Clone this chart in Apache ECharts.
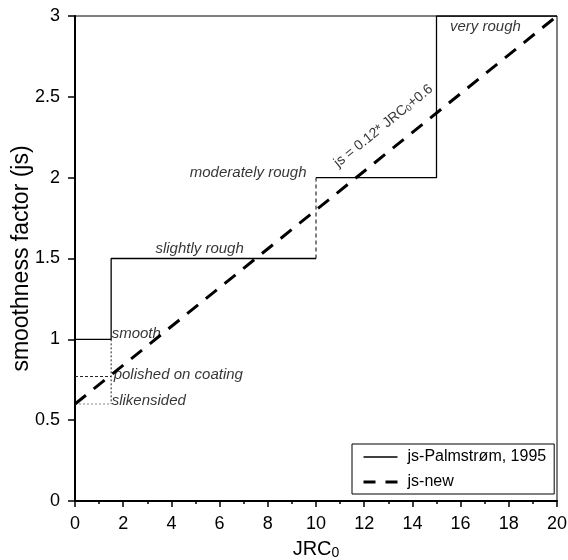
<!DOCTYPE html>
<html><head><meta charset="utf-8">
<script src="https://cdn.jsdelivr.net/npm/echarts@6/dist/echarts.min.js"></script>
<style>html,body{margin:0;padding:0;background:#fff}#c{width:568px;height:560px}</style>
</head><body><div id="c"></div>
<script>
// Palmstrøm (1995) roughness classes: step function
const classNames = ['smooth', 'slightly rough', 'moderately rough', 'very rough'];
const classFrom = [0, 1.5, 10, 15];
const classTo = [1.5, 10, 15, 20];
const classJs = [1.0, 1.5, 2.0, 3.0];
// lower classes below "smooth"
const lowNames = ['polished on coating', 'slikensided'];
const lowJs = [0.77, 0.6];
const lowTo = 1.5;
// js-new line
const newJRC = [0, 20];
const newJs = [0.6, 3.0];
const seriesNames = ['js-Palmstrøm, 1995', 'js-new'];
const formulaText = 'js = 0.12* JRC{s|0}+0.6';
const formulaAt = [12.8, 2.32];

const FONT = 'Liberation Sans, Arial, sans-serif';

// build the solid step path, with a break at the dashed riser (JRC 10)
const palmSolid = [];
const palmDashed = [];
for (let i = 0; i < classNames.length; i++) {
  palmSolid.push([classFrom[i], classJs[i]]);
  palmSolid.push([classTo[i], classJs[i]]);
  if (i === 1) {
    palmDashed.push([classTo[i], classJs[i]], [classTo[i], classJs[i + 1]]);
    palmSolid.push([classTo[i], '-']);
  }
}
const lowLines = lowJs.map(v => [[0, v], [lowTo, v]]);
const lowRiser = [[lowTo, classJs[0]], [lowTo, lowJs[lowJs.length - 1]]];
const newData = newJRC.map((x, i) => [x, newJs[i]]);

const italic = {fontStyle: 'italic', fontSize: 15, color: '#000', fontFamily: FONT};
const annot = [
  {value: [classTo[0], classJs[0]], label: Object.assign({show: true, formatter: classNames[0], position: 'right', distance: 0, offset: [0, -6]}, italic)},
  {value: [lowTo, lowJs[0]], label: Object.assign({show: true, formatter: lowNames[0], position: 'right', distance: 2, offset: [0, -2]}, italic)},
  {value: [lowTo, lowJs[1]], label: Object.assign({show: true, formatter: lowNames[1], position: 'right', distance: 0, offset: [0, -3]}, italic)},
  {value: [(classFrom[1] + classTo[1]) / 2, classJs[1]], label: Object.assign({show: true, formatter: classNames[1], position: 'top', distance: 2, offset: [-14, 0]}, italic)},
  {value: [classTo[1], classJs[2]], label: Object.assign({show: true, formatter: classNames[2], position: 'left', distance: 9, offset: [0, -5]}, italic)},
  {value: [classFrom[3], classJs[3]], label: Object.assign({show: true, formatter: classNames[3], position: 'right', distance: 13, offset: [0, 11]}, italic)},
  {value: formulaAt, label: {show: true, formatter: formulaText, position: 'inside', rotate: 39, fontSize: 14, color: '#000', fontFamily: FONT,
     rich: {s: {fontSize: 9, fontFamily: FONT, color: '#000', padding: [5, 0, 0, 0]}}}}
];

const chart = echarts.init(document.getElementById('c'), null, {renderer: 'canvas'});
chart.setOption({
  animation: false,
  backgroundColor: '#fff',
  grid: {left: 75, right: 11, top: 16, bottom: 59, show: true, borderColor: '#000', borderWidth: 1,
         backgroundColor: 'transparent', containLabel: false, outerBoundsMode: 'none'},
  legend: {
    data: [
      {name: seriesNames[0], lineStyle: {width: 1.3, type: 'solid', color: '#000'}},
      {name: seriesNames[1], lineStyle: {width: 3, type: [12, 10], color: '#000'}}
    ],
    orient: 'vertical', left: 352, top: 444,
    backgroundColor: '#fff', borderColor: '#000', borderWidth: 1, borderRadius: 0,
    padding: [5, 8, 4, 10], itemWidth: 34, itemHeight: 16, itemGap: 9,
    itemStyle: {opacity: 0},
    textStyle: {fontSize: 16, color: '#000', fontFamily: FONT, padding: [0, 0, 0, 5]}
  },
  xAxis: {
    type: 'value', min: 0, max: 20, interval: 2,
    name: 'JRC{sub|0}', nameLocation: 'middle', nameGap: 37, nameMoveOverlap: false,
    nameTextStyle: {fontSize: 20, color: '#000', fontFamily: FONT,
      rich: {sub: {fontSize: 14, color: '#000', fontFamily: FONT, padding: [8, 0, 0, 0]}}},
    axisLine: {lineStyle: {color: '#000', width: 2}},
    axisTick: {length: 6, lineStyle: {color: '#000', width: 1.5}},
    minorTick: {show: true, splitNumber: 2, length: 3, lineStyle: {color: '#000', width: 1.5}},
    axisLabel: {fontSize: 18, color: '#000', fontFamily: FONT, margin: 14},
    splitLine: {show: false}
  },
  yAxis: {
    type: 'value', min: 0, max: 3, interval: 0.5,
    name: 'smoothness factor (js)', nameLocation: 'middle', nameGap: 42, nameMoveOverlap: false,
    nameTextStyle: {fontSize: 23, color: '#000', fontFamily: FONT},
    axisLine: {lineStyle: {color: '#000', width: 2}},
    axisTick: {length: 7, lineStyle: {color: '#000', width: 1.5}},
    axisLabel: {fontSize: 18, color: '#000', fontFamily: FONT, margin: 15},
    splitLine: {show: false}
  },
  series: [
    {name: seriesNames[0], type: 'line', data: palmSolid, symbol: 'none', connectNulls: false,
     lineStyle: {color: '#000', width: 1.3}, itemStyle: {color: '#000'}, z: 3},
    {type: 'line', data: palmDashed, symbol: 'none', lineStyle: {color: '#000', width: 1, type: [4, 3]}, z: 3},
    {type: 'line', data: lowLines[0], symbol: 'none', lineStyle: {color: '#222', width: 1, type: [3, 2]}, z: 2},
    {type: 'line', data: lowLines[1], symbol: 'none', lineStyle: {color: '#888', width: 1, type: [2, 2]}, z: 2},
    {type: 'line', data: lowRiser, symbol: 'none', lineStyle: {color: '#222', width: 1, type: [2, 2]}, z: 2},
    {name: seriesNames[1], type: 'line', data: newData, symbol: 'none',
     lineStyle: {color: '#000', width: 3, type: [14, 10]}, itemStyle: {color: '#000'}, z: 4},
    {type: 'scatter', data: annot, symbol: 'circle', symbolSize: 1, itemStyle: {color: 'rgba(0,0,0,0)'}, silent: true, z: 5}
  ]
});
</script></body></html>
